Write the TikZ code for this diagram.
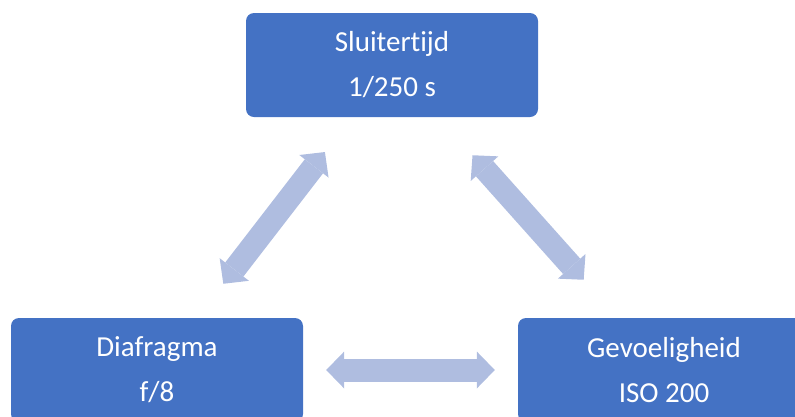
\documentclass[tikz,border=0pt]{standalone}
\usepackage{fontspec}
\setmainfont[Ligatures=NoCommon]{Carlito}
\usetikzlibrary{arrows.meta}
\definecolor{boxblue}{RGB}{68,114,196}
\definecolor{arrowblue}{RGB}{175,189,224}

\begin{document}
\begin{tikzpicture}[x=1pt,y=-1pt,
  box/.style={rectangle,rounded corners=8pt,fill=boxblue,text=white,
    minimum width=292pt,minimum height=104pt,inner sep=0pt,
    align=center,font=\fontsize{29}{45}\selectfont},
  fat/.style={arrowblue,line width=23pt,
    {Triangle[length=18pt,width=37pt,line width=0pt]}-{Triangle[length=18pt,width=37pt,line width=0pt]}}]
\useasboundingbox (0,0) rectangle (795,416);

% Boxes
\node[box] (sluiter) at (392,65) {Sluitertijd\\1/250 s};
\node[box] (diafragma) at (157,370) {Diafragma\\f/8};
\node[box] (iso) at (664,370) {Gevoeligheid\\ISO 200};

% Arrows
\draw[fat,shorten <=44pt,shorten >=43pt] (sluiter) -- (diafragma);
\draw[fat,shorten <=51pt,shorten >=51pt] (sluiter) -- (iso);
\draw[fat,shorten <=23pt,shorten >=23pt] (diafragma) -- (iso);
\end{tikzpicture}
\end{document}
